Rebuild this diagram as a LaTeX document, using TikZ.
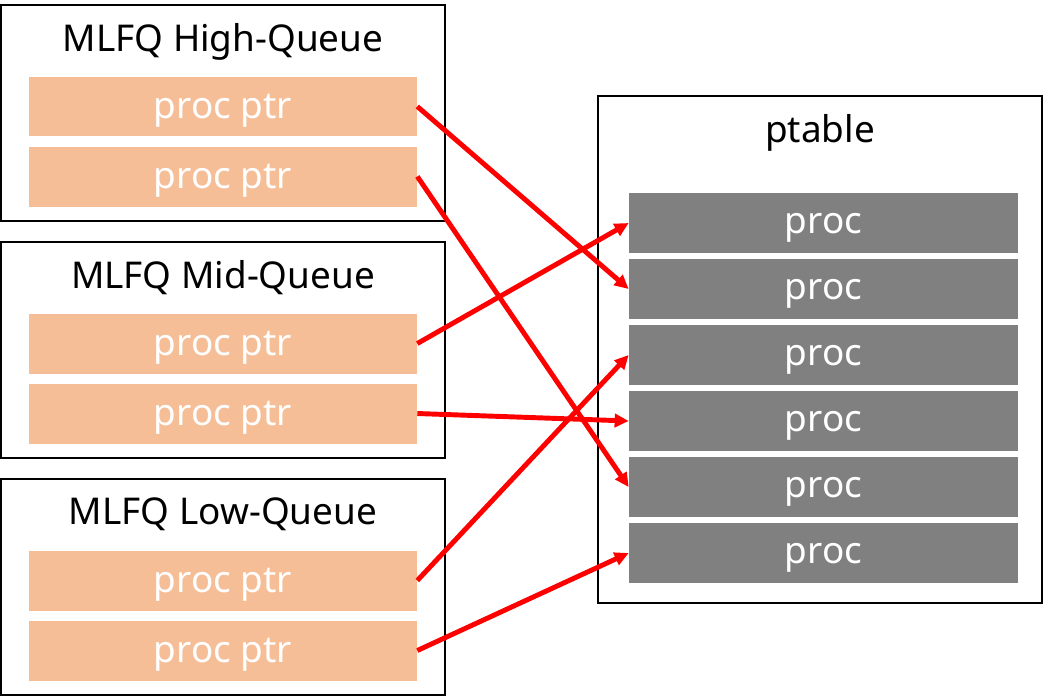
\documentclass[tikz,border=0pt]{standalone}
\usepackage{fontspec}
\setmainfont{Noto Sans}
\usetikzlibrary{arrows.meta}
\definecolor{ptrfill}{HTML}{F5BE97}
\definecolor{procfill}{HTML}{808080}

\begin{document}
\begin{tikzpicture}[x=0.02cm, y=-0.02cm, >={Triangle[length=8pt, width=7.5pt]},
    queuebox/.style={draw, line width=1.1pt, inner sep=0pt},
    ptrbar/.style={fill=ptrfill, text=white, minimum width=7.76cm, minimum height=1.2cm, inner sep=0pt, text depth=0pt, font=\fontsize{21}{24}\selectfont},
    procbar/.style={fill=procfill, text=white, minimum width=7.78cm, minimum height=1.2cm, inner sep=0pt, text depth=0pt, font=\fontsize{21}{24}\selectfont},
    boxtitle/.style={text depth=0pt, font=\fontsize{21}{24}\selectfont},
    link/.style={->, red, line width=2.8pt}]
    \useasboundingbox (0,0) rectangle (1044,697);

    % Queues on the left: box, title and two pointers each
    \foreach \q/\lvl/\top in {high/High/5, mid/Mid/242, low/Low/479} {
        \node[queuebox, minimum width=8.88cm, minimum height=4.32cm] (\q) at (223, \top+108) {};
        \node[boxtitle] (\q-title) at (223, \top+32) {MLFQ \lvl-Queue};
        \node[ptrbar] (\q-1) at (223, \top+101.5) {proc ptr};
        \node[ptrbar] (\q-2) at (223, \top+171.5) {proc ptr};
    }

    % Process table on the right
    \node[queuebox, minimum width=8.88cm, minimum height=10.14cm] (ptable) at (820, 349.5) {};
    \node[boxtitle] (ptable-title) at (820, 128) {ptable};
    \foreach \i in {1,...,6} {
        \node[procbar] (proc-\i) at (823.5, 157+\i*66) {proc};
    }

    % Pointers into the table
    \foreach \src/\dst in {high-1/2, high-2/5, mid-1/1, mid-2/4, low-1/3, low-2/6} {
        \draw[link] (\src.east) -- (proc-\dst.west);
    }
\end{tikzpicture}
\end{document}
